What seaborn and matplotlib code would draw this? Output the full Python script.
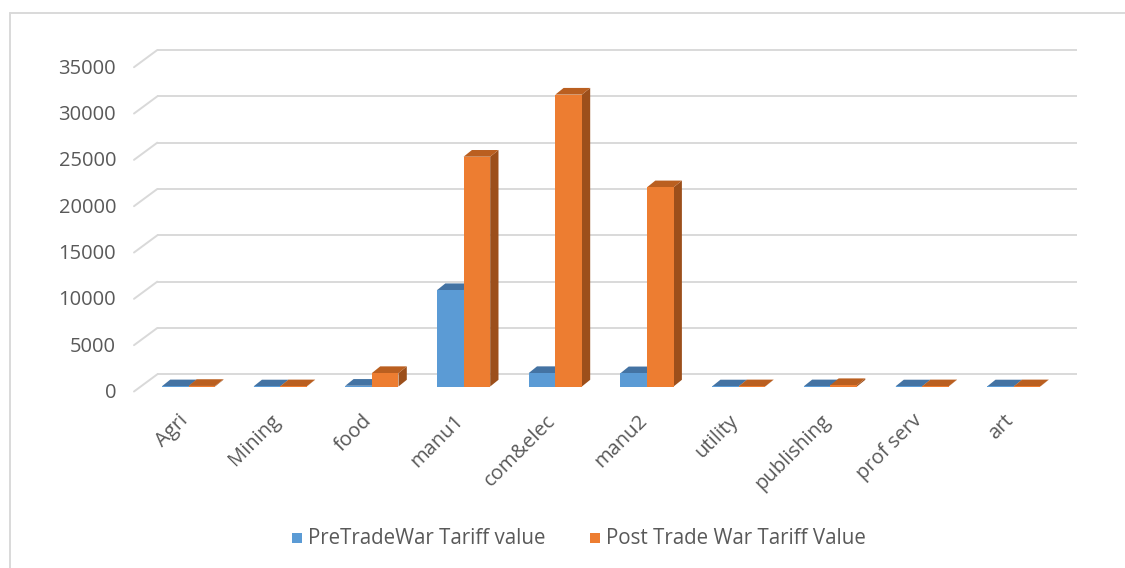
import numpy as np
import pandas as pd
import matplotlib
matplotlib.use("Agg")
import matplotlib.pyplot as plt
from matplotlib.patches import Polygon, Rectangle
import seaborn as sns

# ---- data -------------------------------------------------------------
sectors = ["Agri", "Mining", "food", "manu1", "com&elec", "manu2",
           "utility", "publishing", "prof serv", "art"]
pre_tariff = [20, 10, 80, 10400, 1450, 1430, 10, 20, 10, 10]
post_tariff = [60, 20, 1450, 24800, 31500, 21500, 20, 150, 20, 20]
series_names = ["PreTradeWar Tariff value", "Post Trade War Tariff Value"]
y_ticks = [0, 5000, 10000, 15000, 20000, 25000, 30000, 35000]

front_colors = ["#5B9BD5", "#ED7D31"]
top_colors = ["#4473A3", "#BA5F20"]
side_colors = ["#3F6A96", "#9C4F1B"]
grid_color = "#D9D9D9"
text_color = "#595959"

df = pd.DataFrame({
    "sector": sectors * 2,
    "value": pre_tariff + post_tariff,
    "series": [series_names[0]] * len(sectors) + [series_names[1]] * len(sectors),
})

sns.set_theme(style="white")
plt.rcParams["font.family"] = ["Open Sans", "DejaVu Sans"]

W, H = 1125, 568
fig = plt.figure(figsize=(W / 100, H / 100), dpi=100)
fig.patch.set_facecolor("white")

# background layer in pixel coordinates (y grows downward)
bg = fig.add_axes([0, 0, 1, 1], zorder=0)
bg.set_xlim(0, W)
bg.set_ylim(H, 0)
bg.axis("off")

# front plane of the columns
x_left, x_right = 142.65, 1059.65
y_base, plane_h = 386.5, 324.3
ax = fig.add_axes([x_left / W, (H - y_base) / H, (x_right - x_left) / W, plane_h / H],
                  zorder=1)
ax.patch.set_alpha(0)

sns.barplot(data=df, x="sector", y="value", hue="series", order=sectors,
            hue_order=series_names, palette=front_colors, width=0.58,
            saturation=1, dodge=True, legend=False, ax=ax, edgecolor="none")
ax.set_xlim(-0.5, len(sectors) - 0.5)
ax.set_ylim(0, 35000)
ax.axis("off")
for p in ax.patches:
    p.set_clip_on(False)


def to_px(x, y):
    """Data coordinates of the column plane -> background pixel coordinates."""
    dx, dy = ax.transData.transform((x, y))
    return dx, H - dy


# depth of the columns (perspective offset)
depth_dx, depth_dy = 8.3, -6.7
# offset of the back wall and front floor edge from the column plane
wall_dy = -12.2
floor_x0, floor_dy = 134.0, 5.0
wall_x0, wall_x1 = 157.3, 1077.0

# back-wall gridlines, side-wall diagonals and value labels
for v in y_ticks:
    _, py = to_px(0, v)
    bg.plot([wall_x0, wall_x1], [py + wall_dy, py + wall_dy], color=grid_color,
            lw=1.4, solid_capstyle="butt", zorder=1)
    bg.plot([floor_x0, wall_x0], [py + floor_dy, py + wall_dy], color=grid_color,
            lw=1.4, zorder=1)
    bg.text(116, py + 6.5, f"{v}", ha="right", va="center", fontsize=14.5,
            color=text_color)

# top and side faces of every column
n = len(sectors)
for k, p in enumerate(ax.patches[:2 * n]):
    s = k // n
    x0, x1 = p.get_x(), p.get_x() + p.get_width()
    h = p.get_height()
    ax0, ayt = to_px(x0, h)
    ax1, _ = to_px(x1, h)
    _, ayb = to_px(x1, 0)
    top = Polygon([(ax0, ayt), (ax1, ayt), (ax1 + depth_dx, ayt + depth_dy),
                   (ax0 + depth_dx, ayt + depth_dy)], closed=True,
                  facecolor=top_colors[s], edgecolor="none", zorder=3 + s)
    side = Polygon([(ax1, ayt), (ax1, ayb), (ax1 + depth_dx, ayb + depth_dy),
                    (ax1 + depth_dx, ayt + depth_dy)], closed=True,
                   facecolor=side_colors[s], edgecolor="none", zorder=3 + s)
    bg.add_patch(side)
    bg.add_patch(top)

# category labels
for i, name in enumerate(sectors):
    cx, _ = to_px(i, 0)
    bg.text(cx - 10, 411, name, rotation=45, rotation_mode="anchor",
            ha="right", va="top", fontsize=14.5, color=text_color)

# legend
legend_items = [(292, series_names[0]), (590, series_names[1])]
for s, (lx, label) in enumerate(legend_items):
    bg.add_patch(Rectangle((lx, 533), 10, 10, facecolor=front_colors[s],
                           edgecolor="none"))
    bg.text(lx + 16, 538.5, label, ha="left", va="center", fontsize=14.8,
            color=text_color)

# chart area border
bg.plot([10, W], [13, 13], color=grid_color, lw=1.4, zorder=0)
bg.plot([10, 10], [13, H], color=grid_color, lw=1.4, zorder=0)

fig.savefig("out.png", dpi=100, facecolor="white")
